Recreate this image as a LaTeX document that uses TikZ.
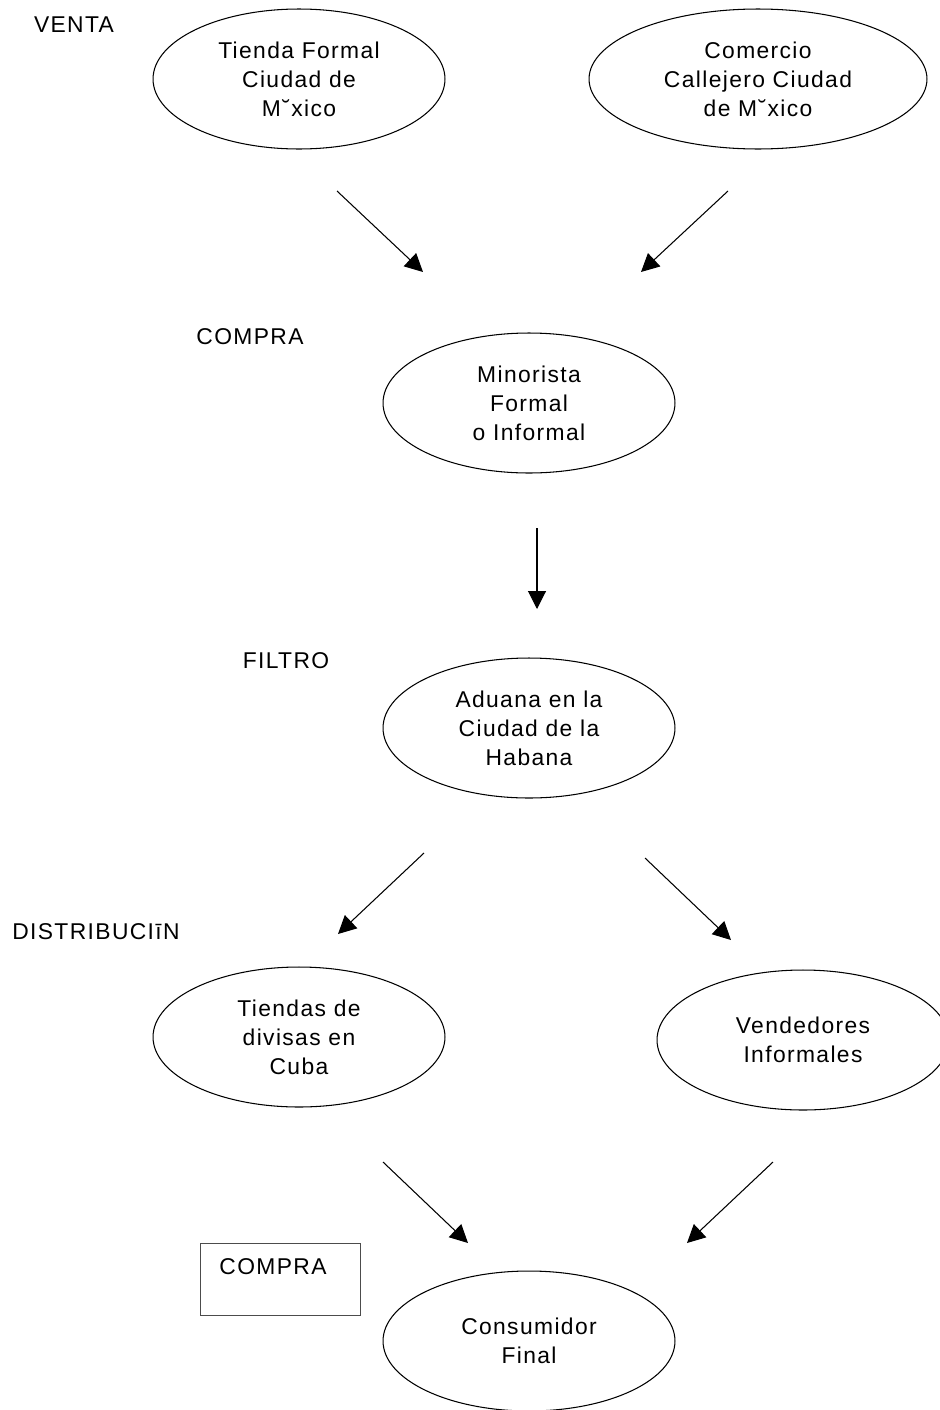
\documentclass[tikz,border=0pt]{standalone}
\usepackage{fontspec}
\setmainfont[LetterSpace=6]{Liberation Sans}
\usepackage{tikz}
\usetikzlibrary{arrows.meta,shapes.geometric}

\begin{document}
\begin{tikzpicture}[x=0.02cm,y=-0.02cm,>={Triangle[length=0.36cm,width=0.36cm]},
  line width=0.6pt,
  every node/.style={font=\fontsize{13}{16.6}\selectfont},
  main node/.style={ellipse,draw,minimum width=5.84cm,minimum height=2.8cm,inner sep=0pt,align=center},
  wide node/.style={main node,minimum width=6.76cm},
  stage node/.style={inner sep=0pt},
  stage box/.style={draw=black!70,line width=0.4pt,minimum width=3.2cm,minimum height=1.44cm,inner sep=0pt}]
  \useasboundingbox (0,0) rectangle (940,1410);

  % stages
  \node[stage node] (venta)   at (74,25)   {VENTA};
  \node[stage node] (compra)  at (250,337) {COMPRA};
  \node[stage node] (filtro)  at (286,661) {FILTRO};
  \node[stage node] (distrib) at (96,932)  {DISTRIBUCIīN};
  \node[stage box]  (box)     at (280,1279) {};
  \node[stage node] (compra2) at (273,1267) {COMPRA};

  % actors
  \node[main node] (tienda)   at (299,79)   {Tienda Formal\\Ciudad de\\M˘xico};
  \node[wide node] (comercio) at (758,79)   {Comercio\\Callejero Ciudad\\de M˘xico};
  \node[main node] (minor)    at (529,403)  {Minorista\\Formal\\o Informal};
  \node[main node] (aduana)   at (529,728)  {Aduana en la\\Ciudad de la\\Habana};
  \node[main node] (divisas)  at (299,1037) {Tiendas de\\divisas en\\Cuba};
  \node[main node] (vended)   at (803,1040) {Vendedores\\Informales};
  \node[main node] (consum)   at (529,1341) {Consumidor\\Final};

  % arrow ends
  \coordinate (a1) at (337,191);  \coordinate (b1) at (423,272);
  \coordinate (a2) at (728,191);  \coordinate (b2) at (641,272);
  \coordinate (a3) at (537,528);  \coordinate (b3) at (537,609);
  \coordinate (a4) at (424,853);  \coordinate (b4) at (338,934);
  \coordinate (a5) at (645,858);  \coordinate (b5) at (731,940);
  \coordinate (a6) at (383,1162); \coordinate (b6) at (468,1243);
  \coordinate (a7) at (773,1162); \coordinate (b7) at (687,1243);

  \foreach \i in {1,...,7}
    \draw[->] (a\i) -- (b\i);
\end{tikzpicture}
\end{document}
